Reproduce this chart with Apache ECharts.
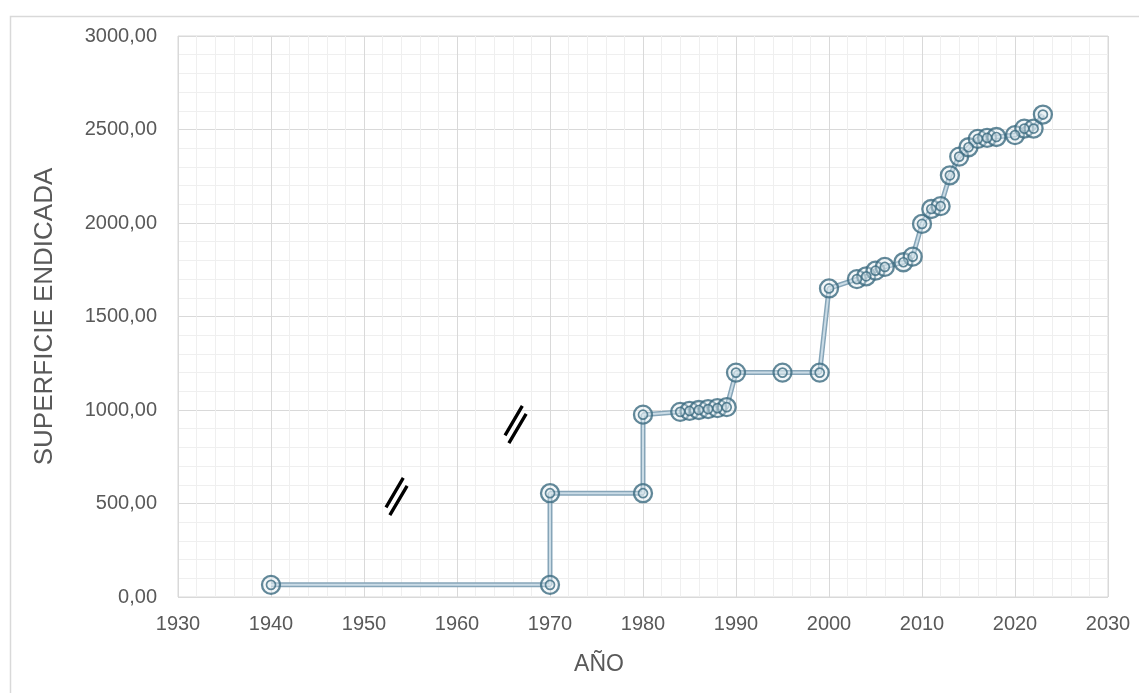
<!DOCTYPE html>
<html>
<head>
<meta charset="utf-8">
<script src="https://cdn.jsdelivr.net/npm/echarts@6/dist/echarts.min.js"></script>
<style>
  html, body { margin: 0; padding: 0; background: #fff; }
  #chart { width: 1139px; height: 693px; }
</style>
</head>
<body>
<div id="chart"></div>
<script>
// ---- Data ----
const years  = [1940, 1970, 1970, 1980, 1980, 1984, 1985, 1986, 1987, 1988, 1989, 1990, 1995, 1999,
                2000, 2003, 2004, 2005, 2006, 2008, 2009, 2010, 2011, 2012, 2013, 2014, 2015, 2016,
                2017, 2018, 2020, 2021, 2022, 2023];
const values = [65, 65, 555, 555, 975, 990, 995, 1000, 1005, 1010, 1015, 1200, 1200, 1200,
                1650, 1700, 1715, 1745, 1765, 1790, 1820, 1995, 2075, 2090, 2255, 2355, 2405, 2450,
                2455, 2460, 2470, 2505, 2505, 2580];
const breakMarks = [[1953.5, 537], [1966.3, 922]];   // "//" axis-break annotations
const xTitle = 'AÑO';
const yTitle = 'SUPERFICIE ENDICADA';

const pts = years.map((y, i) => [y, values[i]]);
const slashPath = 'path://M0.5 30.1 L3.5 31.9 L21.5 1.9 L18.5 0.1 Z M4.5 38.1 L7.5 39.9 L25.5 9.9 L22.5 8.1 Z';
const font = 'Liberation Sans, Arial, sans-serif';
const ringColor = '#3b6a7f';

const chart = echarts.init(document.getElementById('chart'));
chart.setOption({
  animation: false,
  backgroundColor: '#fff',
  graphic: [{
    type: 'rect', left: 8, top: 14, silent: true,
    shape: { width: 1150, height: 700 },
    style: { fill: 'none', stroke: '#d9d9d9', lineWidth: 1.5 }
  }],
  grid: { left: 178, right: 31, top: 36, bottom: 96, show: true, borderColor: '#d9d9d9', borderWidth: 1 },
  xAxis: {
    type: 'value', min: 1930, max: 2030, interval: 10,
    name: xTitle, nameLocation: 'middle', nameGap: 56,
    nameTextStyle: { fontFamily: font, fontSize: 23, color: '#595959', padding: [0, 88, 0, 0] },
    axisLine: { show: false }, axisTick: { show: false },
    axisLabel: { fontFamily: font, fontSize: 20, color: '#595959', margin: 17, formatter: v => String(v) },
    splitLine: { show: true, lineStyle: { color: '#d9d9d9', width: 1 } },
    minorTick: { show: false, splitNumber: 5 },
    minorSplitLine: { show: true, lineStyle: { color: '#efefef', width: 1 } }
  },
  yAxis: {
    type: 'value', min: 0, max: 3000, interval: 500,
    name: yTitle, nameLocation: 'middle', nameGap: 120, nameRotate: 90,
    nameTextStyle: { fontFamily: font, fontSize: 26, color: '#595959' },
    axisLine: { show: false }, axisTick: { show: false },
    axisLabel: { fontFamily: font, fontSize: 20, color: '#595959', margin: 21,
                 formatter: v => v.toFixed(2).replace('.', ',') },
    splitLine: { show: true, lineStyle: { color: '#d9d9d9', width: 1 } },
    minorTick: { show: false, splitNumber: 5 },
    minorSplitLine: { show: true, lineStyle: { color: '#efefef', width: 1 } }
  },
  series: [
    {
      type: 'line', data: pts, symbol: 'none', z: 2,
      lineStyle: { color: '#86a5b8', width: 5 },
      markPoint: {
        symbol: slashPath, symbolSize: [24, 39], silent: true,
        itemStyle: { color: '#000' }, label: { show: false },
        data: breakMarks.map(c => ({ coord: c }))
      }
    },
    {
      type: 'line', data: pts, symbol: 'none', z: 3,
      lineStyle: { color: '#cbdce6', width: 2 }
    },
    {
      type: 'scatter', data: pts, symbol: 'circle', symbolSize: 18, z: 4,
      itemStyle: { color: 'rgba(225,235,241,0.45)', borderColor: ringColor, borderWidth: 2.3 }
    },
    {
      type: 'scatter', data: pts, symbol: 'circle', symbolSize: 9, z: 5,
      itemStyle: { color: 'rgba(220,232,238,0.5)', borderColor: ringColor, borderWidth: 1.7 }
    }
  ]
});
</script>
</body>
</html>
